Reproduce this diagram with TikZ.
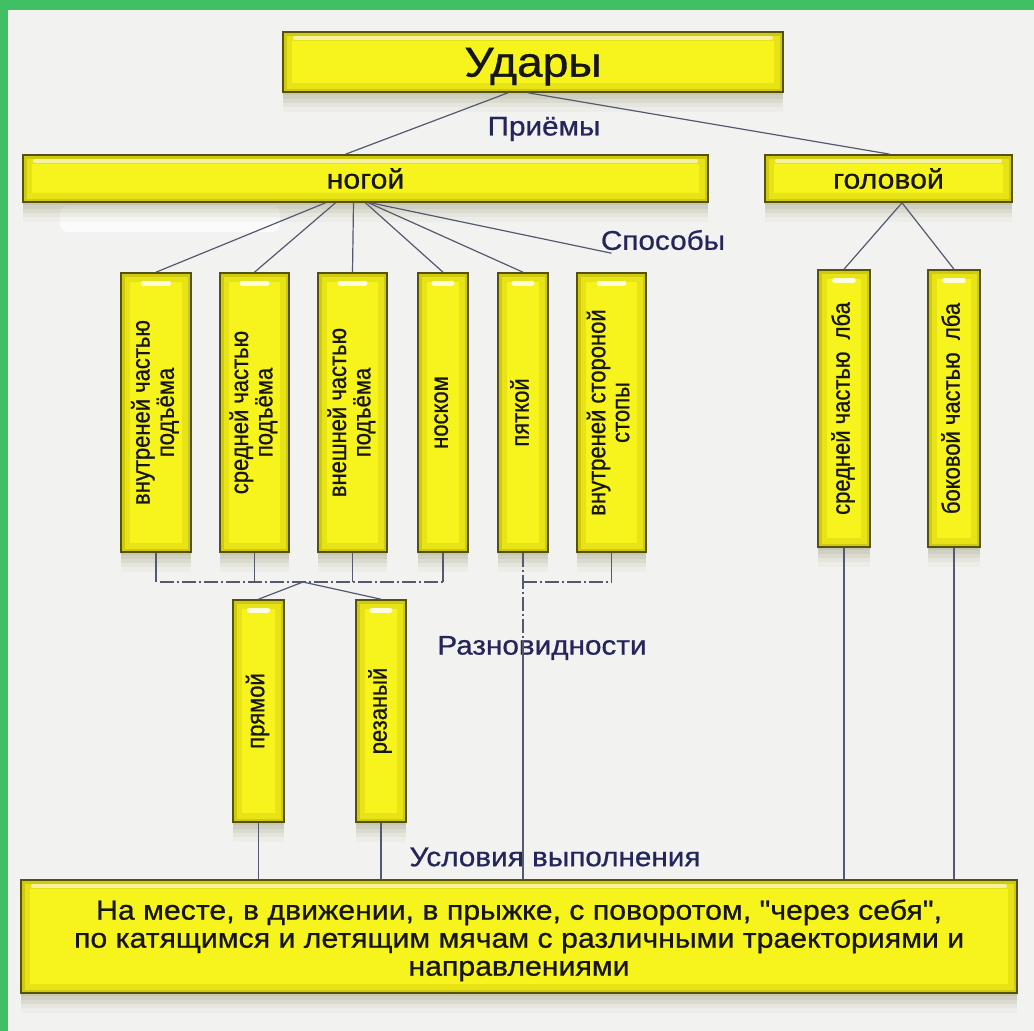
\documentclass[tikz,border=0pt]{standalone}
\usepackage{fontspec}
\usepackage{graphicx}
\setmainfont{Liberation Sans}
\newfontfamily\hfont[FakeStretch=1.1,FakeBold=0.8]{Liberation Sans}
\newfontfamily\vfont[FakeStretch=0.88,FakeBold=0.8]{Liberation Sans}
\usetikzlibrary{shadows,calc}
\definecolor{bgc}{HTML}{F2F2F0}
\definecolor{greenc}{HTML}{41C063}
\definecolor{boxfill}{HTML}{F7F31C}
\definecolor{boxdark}{HTML}{A39C00}
\definecolor{boxedge}{HTML}{55520F}
\definecolor{shadc}{HTML}{8C8A60}
\definecolor{linec}{HTML}{555970}
\definecolor{labelc}{HTML}{23265A}
\definecolor{textc}{HTML}{161616}
\newcommand\glowcode{%
  \draw[boxdark,opacity=0.18,line width=18pt] (path picture bounding box.south west) rectangle (path picture bounding box.north east);
  \draw[boxdark,opacity=0.35,line width=7pt] (path picture bounding box.south west) rectangle (path picture bounding box.north east);}
\tikzset{
  softshadow/.style={
    drop shadow={shadow xshift=0pt,shadow yshift=-3pt,fill=shadc,opacity=0.14},
    drop shadow={shadow xshift=0pt,shadow yshift=-7pt,fill=shadc,opacity=0.12},
    drop shadow={shadow xshift=0pt,shadow yshift=-11pt,fill=shadc,opacity=0.10},
    drop shadow={shadow xshift=0pt,shadow yshift=-15pt,fill=shadc,opacity=0.08},
    drop shadow={shadow xshift=0pt,shadow yshift=-20pt,fill=shadc,opacity=0.05}},
  ybox/.style={softshadow,draw=boxedge,line width=1.6pt,fill=boxfill,inner sep=0pt,text=textc},
  hbox/.style={ybox,font=\hfont\fontsize{27.5}{29}\selectfont,
    path picture={\glowcode
      \draw[white,opacity=0.6,line width=4pt,line cap=round]
        ($(path picture bounding box.north west)+(12,6)$) -- ($(path picture bounding box.north east)+(-12,6)$);}},
  vbox/.style={ybox,font=\vfont\fontsize{25}{24}\selectfont,
    path picture={\glowcode
      \draw[white,opacity=0.85,line width=5pt,line cap=round]
        ($(path picture bounding box.north west)!0.32!(path picture bounding box.north east)+(0,10)$) --
        ($(path picture bounding box.north west)!0.68!(path picture bounding box.north east)+(0,10)$);}},
  lbl/.style={font=\hfont\fontsize{27}{29}\selectfont,text=labelc,inner sep=0pt},
  conn/.style={draw=linec,line width=1.2pt},
  dashdot/.style={dash pattern=on 14pt off 3pt on 2pt off 3pt},
}
\newcommand\vtxt[1]{\rotatebox{90}{\begin{tabular}{@{}c@{}}#1\end{tabular}}}
\begin{document}
\begin{tikzpicture}[x=1pt,y=-1pt]
\useasboundingbox (0,0) rectangle (1034,1031);
\fill[bgc] (0,0) rectangle (1034,1031);
\fill[white,opacity=0.75,rounded corners=8pt] (60,206) rectangle (280,232);
\fill[greenc] (0,0) rectangle (1034,10);
\fill[greenc] (0,0) rectangle (8,1031);

% labels
\node[lbl] (priemy) at (544,129) {Приёмы};
\node[lbl] (sposoby) at (663,240) {Способы};
\node[lbl] (raznov) at (542,648) {Разновидности};
\node[lbl] (uslov) at (555,857) {Условия выполнения};

% boxes
\node[hbox,minimum width=500,minimum height=60,font=\hfont\fontsize{42}{44}\selectfont] (udary) at (533,62) {\rule{0pt}{38pt}Удары};
\node[hbox,minimum width=685,minimum height=47] (nogoy) at (365.5,178.5) {ногой};
\node[hbox,minimum width=247,minimum height=47] (golovoy) at (888.5,178.5) {головой};

\node[vbox,minimum width=70,minimum height=279] (b1) at (156,412.5) {\vtxt{внутреней частью\\подъёма}};
\node[vbox,minimum width=69,minimum height=279] (b2) at (254.5,412.5) {\vtxt{средней частью\\подъёма}};
\node[vbox,minimum width=69,minimum height=279] (b3) at (352.5,412.5) {\vtxt{внешней частью\\подъёма}};
\node[vbox,minimum width=50,minimum height=279] (b4) at (443,412.5) {\vtxt{носком}};
\node[vbox,minimum width=50,minimum height=279] (b5) at (523,412.5) {\vtxt{пяткой}};
\node[vbox,minimum width=69,minimum height=279] (b6) at (611.5,412.5) {\vtxt{внутреней стороной\\стопы}};
\node[vbox,minimum width=52,minimum height=277] (b7) at (844,408.5) {\vtxt{средней частью\ \ лба}};
\node[vbox,minimum width=52,minimum height=277] (b8) at (954,408.5) {\vtxt{боковой частью\ \ лба}};

\node[vbox,minimum width=51,minimum height=222] (pryamoy) at (258.5,711) {\vtxt{прямой}};
\node[vbox,minimum width=50,minimum height=222] (rezany) at (381,711) {\vtxt{резаный}};

\node[hbox,minimum width=996,minimum height=113,align=center,font=\hfont\fontsize{27.5}{28}\selectfont] (bottom) at (519,936.5)
  {\rule{0pt}{28pt}На месте, в движении, в прыжке, с поворотом, "через себя",\\по катящимся и летящим мячам с различными траекториями и\\направлениями};

% connectors
\draw[conn] ([xshift=-25pt]udary.south) -- ([xshift=-20pt]nogoy.north);
\draw[conn] ([xshift=-5pt]udary.south) -- ([xshift=1.5pt]golovoy.north);

\draw[conn] ([xshift=-40pt]nogoy.south) -- (b1.north);
\draw[conn] ([xshift=-30pt]nogoy.south) -- (b2.north);
\draw[conn] ([xshift=-12pt]nogoy.south) -- (b3.north);
\draw[conn] ([xshift=0pt]nogoy.south) -- (b4.north);
\draw[conn] ([xshift=3pt]nogoy.south) -- (b5.north);
\draw[conn] ([xshift=5pt]nogoy.south) -- ([yshift=19pt]b6.north);

\draw[conn] ([xshift=13.5pt]golovoy.south) -- (b7.north);
\draw[conn] ([xshift=13.5pt]golovoy.south) -- (b8.north);

\coordinate (hy) at (0,582);
\coordinate (hy2) at (0,640);
\coordinate (jn) at (303,582);
\foreach \b in {b1,b2,b3,b4,b6}{\draw[conn] (\b.south) -- (\b.south |- hy);}
\draw[conn,dashdot] ([xshift=4pt]b1.south |- hy) -- (b4.south |- hy);
\draw[conn,dashdot] (b5.south) -- (b5.south |- hy2);
\draw[conn] (b5.south |- hy2) -- (b5.south |- bottom.north);
\draw[conn,dashdot] (b5.south |- hy) -- (b6.south |- hy);
\draw[conn] (jn) -- (pryamoy.north);
\draw[conn] (jn) -- (rezany.north);
\draw[conn] (pryamoy.south) -- (pryamoy.south |- bottom.north);
\draw[conn] (rezany.south) -- (rezany.south |- bottom.north);
\draw[conn] (b7.south) -- (b7.south |- bottom.north);
\draw[conn] (b8.south) -- (b8.south |- bottom.north);
\end{tikzpicture}
\end{document}
